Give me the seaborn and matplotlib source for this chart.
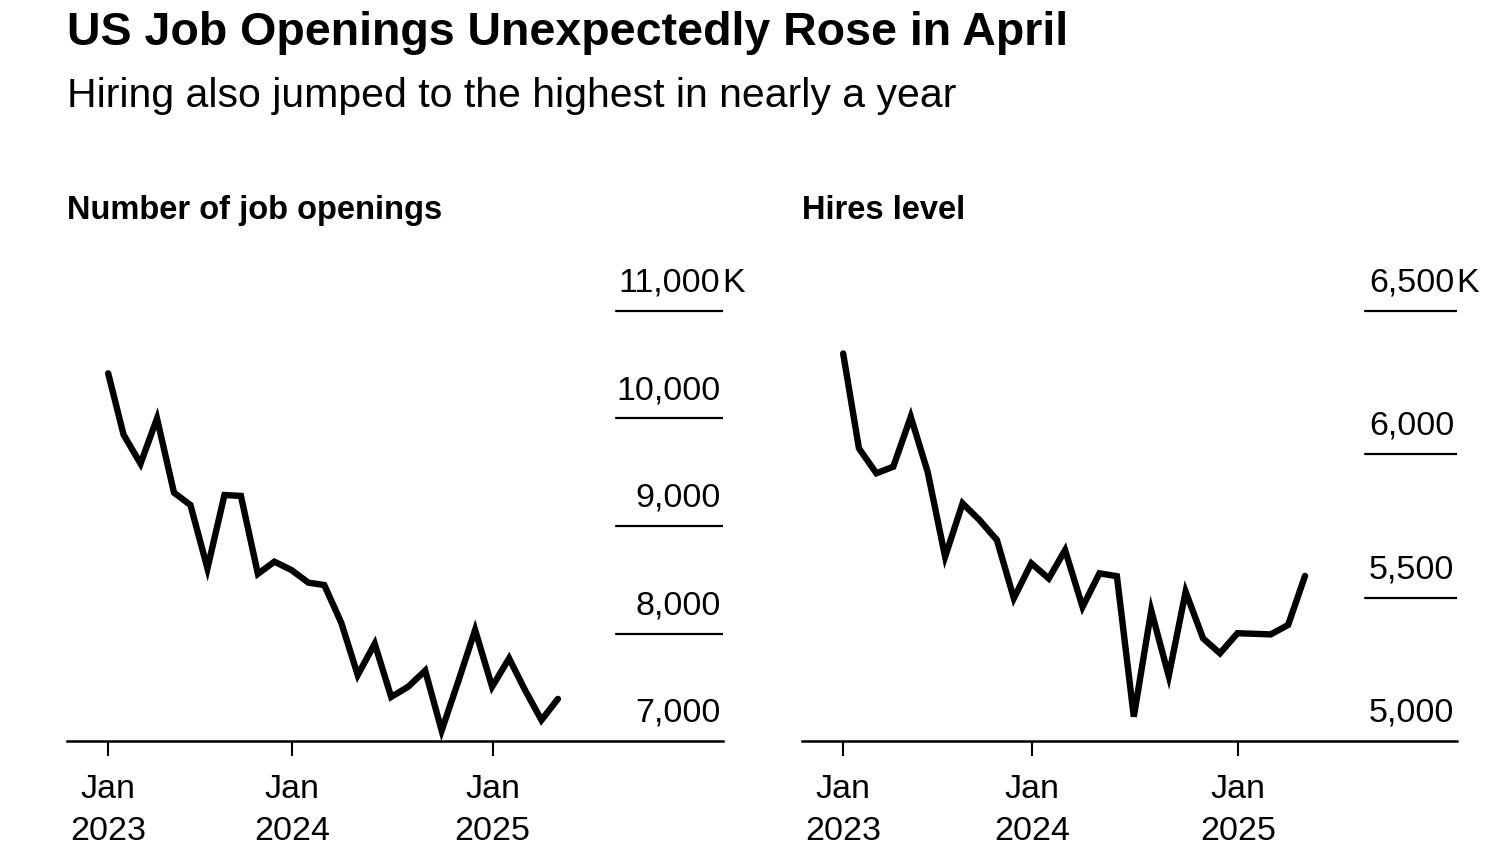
import pandas as pd
import seaborn as sns
import matplotlib.pyplot as plt

# Monthly data, Jan 2023 - Apr 2025 (thousands)
months = pd.date_range("2023-01-31", periods=28, freq="ME")
openings = [10420, 9850, 9580, 10000, 9310, 9195, 8606, 9288, 9280, 8555,
            8668, 8591, 8473, 8451, 8100, 7614, 7905, 7410, 7505, 7655,
            7098, 7565, 8033, 7505, 7769, 7484, 7195, 7392]
hires = [6352, 6021, 5934, 5957, 6131, 5939, 5643, 5829, 5771, 5701,
         5498, 5620, 5567, 5666, 5468, 5585, 5575, 5085, 5455, 5227,
         5521, 5358, 5306, 5376, 5374, 5372, 5405, 5576]

open_ticks = [7000, 8000, 9000, 10000, 11000]
hire_ticks = [5000, 5500, 6000, 6500]
tick_dates = [months[0], pd.Timestamp("2024-01-01"), pd.Timestamp("2025-01-01")]
tick_labels = ["Jan\n2023", "Jan\n2024", "Jan\n2025"]

sns.set_style("white")
plt.rcParams["font.family"] = ["Liberation Sans", "DejaVu Sans"]
plt.rcParams["text.color"] = "black"
plt.rcParams["xtick.color"] = "black"
plt.rcParams["xtick.labelcolor"] = "black"

fig = plt.figure(figsize=(15, 8.5), dpi=100)
ax1 = fig.add_axes([0.0447, 0.1282, 0.4373, 0.5659])
ax2 = fig.add_axes([0.5347, 0.1282, 0.4367, 0.5659])

df = pd.DataFrame({"month": months, "openings": openings, "hires": hires})


def style_panel(ax, col, ticks, top, xl, xr, grid_from):
    sns.lineplot(data=df, x="month", y=col, ax=ax, color="black",
                 linewidth=4.6, solid_joinstyle="miter")
    ax.set_ylim(ticks[0], top)
    ax.set_xlim(months[0] - pd.Timedelta(days=xl), months[-1] + pd.Timedelta(days=xr))
    for s in ["left", "right", "top"]:
        ax.spines[s].set_visible(False)
    ax.spines["bottom"].set_linewidth(1.8)
    ax.spines["bottom"].set_color("black")
    ax.set_yticks([])
    ax.set_xlabel("")
    ax.set_ylabel("")
    ax.set_xticks(tick_dates)
    ax.set_xticklabels(tick_labels, fontsize=24.5, linespacing=1.45)
    ax.tick_params(axis="x", direction="out", length=11, width=1.5,
                   color="black", pad=13, bottom=True)
    for i, t in enumerate(ticks):
        if i > 0:
            ax.axhline(t, xmin=grid_from, xmax=1.0, color="black", linewidth=1.6)
        ax.annotate(f"{t:,}", xy=(0.996, t), xycoords=("axes fraction", "data"),
                    xytext=(0, 14), textcoords="offset points",
                    ha="right", va="baseline", fontsize=24.5, annotation_clip=False)
    ax.annotate("K", xy=(0.996, ticks[-1]), xycoords=("axes fraction", "data"),
                xytext=(1, 14), textcoords="offset points",
                ha="left", va="baseline", fontsize=24.5, annotation_clip=False)


style_panel(ax1, "openings", open_ticks, 11474, 75, 301, 0.837)
style_panel(ax2, "hires", hire_ticks, 6678, 73, 270, 0.86)

fig.text(67 / 1500, 1 - 45 / 850, "US Job Openings Unexpectedly Rose in April",
         fontsize=33.5, fontweight="bold", va="baseline")
fig.text(67 / 1500, 1 - 107 / 850, "Hiring also jumped to the highest in nearly a year",
         fontsize=29.5, va="baseline")
fig.text(67 / 1500, 1 - 219 / 850, "Number of job openings",
         fontsize=23.5, fontweight="bold", va="baseline")
fig.text(802 / 1500, 1 - 219 / 850, "Hires level",
         fontsize=23.5, fontweight="bold", va="baseline")

fig.savefig("out.png", dpi=100, facecolor="white")
